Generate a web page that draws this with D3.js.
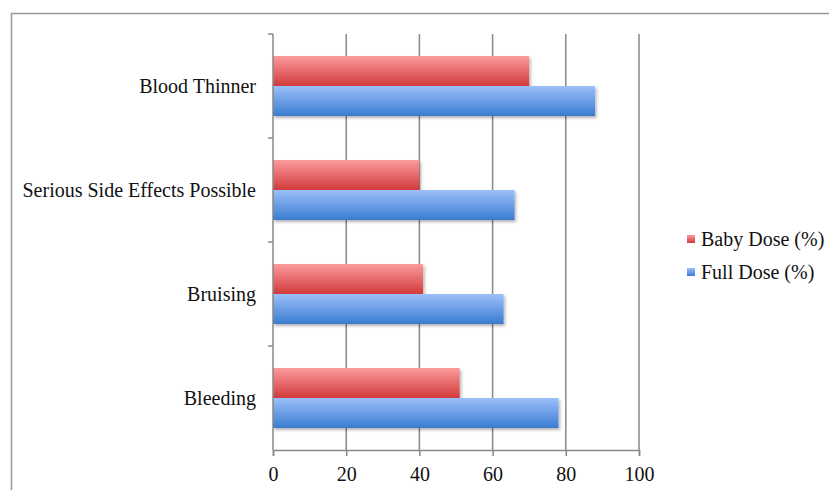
<!DOCTYPE html>
<html>
<head>
<meta charset="utf-8">
<script src="https://cdn.jsdelivr.net/npm/d3@7"></script>
<style>
  body { margin: 0; background: #fff; }
  text { font-family: "Liberation Serif", "DejaVu Serif", serif; fill: #111; }
</style>
</head>
<body>
<div id="chart"></div>
<script>
// categories from top to bottom
const categories = ["Blood Thinner", "Serious Side Effects Possible", "Bruising", "Bleeding"]
const babyDose = [70, 40, 41, 51]
const fullDose = [88, 66, 63, 78]
const seriesNames = ["Baby Dose (%)", "Full Dose (%)"]
const xTicks = [0, 20, 40, 60, 80, 100]

const W = 829, H = 490
const margin = {top: 34, left: 273}
const plotW = 366, plotH = 416
const fontSize = 20

const svg = d3.select("#chart").append("svg")
    .attr("width", W)
    .attr("height", H)

const defs = svg.append("defs")
function grad(id, top, bottom) {
    const g = defs.append("linearGradient").attr("id", id)
        .attr("x1", 0).attr("y1", 0).attr("x2", 0).attr("y2", 1)
    g.append("stop").attr("offset", "0%").attr("stop-color", top)
    g.append("stop").attr("offset", "100%").attr("stop-color", bottom)
}
grad("gRed", "#fb9b9b", "#d13b3b")
grad("gBlue", "#9cc0fb", "#3a7bd0")
const shadow = defs.append("filter").attr("id", "shadow")
    .attr("x", "-5%").attr("y", "-20%").attr("width", "115%").attr("height", "150%")
shadow.append("feDropShadow").attr("dx", 1.5).attr("dy", 2).attr("stdDeviation", 1.5)
    .attr("flood-color", "#000").attr("flood-opacity", 0.3)

// outer frame (runs off the right and bottom edges)
svg.append("rect")
    .attr("x", 11.5).attr("y", 13.5)
    .attr("width", 900).attr("height", 600)
    .attr("fill", "none").attr("stroke", "#999").attr("stroke-width", 1.5)

const g = svg.append("g").attr("transform", `translate(${margin.left},${margin.top})`)

const x = d3.scaleLinear().domain([0, 100]).range([0, plotW])
const y = d3.scaleBand().domain(categories).range([0, plotH])
const sub = d3.scaleBand().domain(seriesNames).range([22, y.bandwidth() - 22])

// vertical gridlines
g.selectAll(".grid").data(xTicks.slice(1)).join("line")
    .attr("x1", d => x(d)).attr("x2", d => x(d))
    .attr("y1", 0).attr("y2", plotH)
    .attr("stroke", "#888").attr("stroke-width", 1.5)

const rows = categories.map((c, i) => ({cat: c, vals: [babyDose[i], fullDose[i]]}))

const grp = g.selectAll(".row").data(rows).join("g")
    .attr("transform", d => `translate(0,${y(d.cat)})`)
grp.selectAll("rect").data(d => d.vals.map((v, j) => ({v, s: seriesNames[j], j}))).join("rect")
    .attr("x", 0)
    .attr("y", d => sub(d.s))
    .attr("width", d => x(d.v))
    .attr("height", sub.bandwidth())
    .attr("fill", d => d.j === 0 ? "url(#gRed)" : "url(#gBlue)")
    .attr("filter", "url(#shadow)")

// bottom axis
const xAxis = g.append("g")
    .attr("transform", `translate(0,${plotH})`)
    .call(d3.axisBottom(x).tickValues(xTicks).tickSize(6).tickPadding(11))
xAxis.select(".domain").attr("stroke", "#888").attr("stroke-width", 1.5)
xAxis.selectAll(".tick line").attr("stroke", "#888").attr("stroke-width", 1.5)
xAxis.selectAll("text").attr("font-size", fontSize).attr("fill", "#111")
    .style("font-family", "Liberation Serif")

// left axis with ticks between categories
const left = g.append("g")
left.append("line").attr("x1", 0).attr("x2", 0).attr("y1", 0).attr("y2", plotH)
    .attr("stroke", "#888").attr("stroke-width", 1.5)
left.selectAll(".sep").data(categories).join("line")
    .attr("x1", -5).attr("x2", 0)
    .attr("y1", d => y(d)).attr("y2", d => y(d))
    .attr("stroke", "#888").attr("stroke-width", 1.5)
left.selectAll(".lab").data(categories).join("text")
    .attr("x", -17)
    .attr("y", d => y(d) + y.bandwidth() / 2)
    .attr("dy", "0.35em")
    .attr("text-anchor", "end")
    .attr("font-size", fontSize)
    .text(d => d)

// legend
const legend = svg.append("g").attr("transform", "translate(687,239)")
const li = legend.selectAll("g").data(seriesNames).join("g")
    .attr("transform", (d, i) => `translate(0,${i * 33})`)
li.append("rect").attr("x", 0).attr("y", -4).attr("width", 8).attr("height", 8)
    .attr("fill", (d, i) => i === 0 ? "url(#gRed)" : "url(#gBlue)")
li.append("text").attr("x", 14).attr("dy", "0.35em")
    .attr("font-size", fontSize).text(d => d)
</script>
</body>
</html>
